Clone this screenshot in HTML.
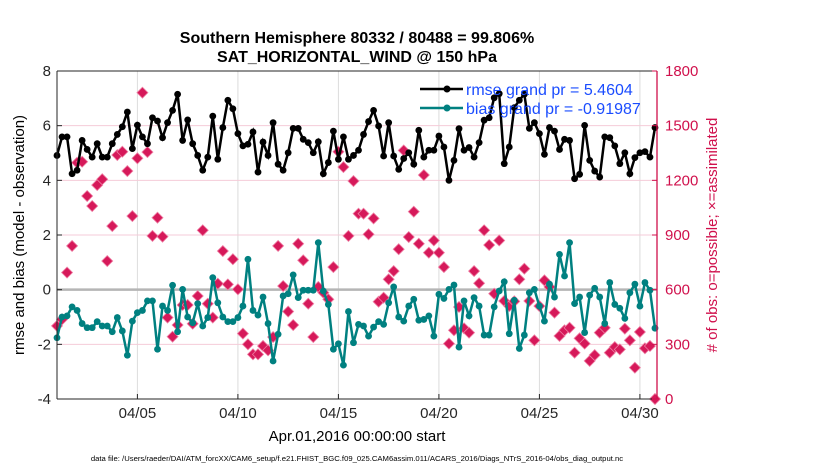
<!DOCTYPE html>
<html><head><meta charset="utf-8"><style>
body{margin:0;background:#fff;}
svg{display:block;font-family:"Liberation Sans",sans-serif;}
</style></head><body>
<svg id="chart" width="830" height="470" xmlns="http://www.w3.org/2000/svg">
<text x="357" y="43" text-anchor="middle" font-size="16" font-weight="bold">Southern Hemisphere 80332 / 80488 = 99.806%</text>
<text x="357" y="62" text-anchor="middle" font-size="16" font-weight="bold">SAT_HORIZONTAL_WIND @ 150 hPa</text>
<g id="grid"></g>
<g id="marks"></g>
<g id="axes"></g>
<text transform="translate(24,235) rotate(-90)" text-anchor="middle" font-size="15">rmse and bias (model - observation)</text>
<text transform="translate(717,235) rotate(-90)" text-anchor="middle" font-size="15" fill="#d0104c"># of obs: o=possible; ×=assimilated</text>
<text x="357" y="441" text-anchor="middle" font-size="15">Apr.01,2016 00:00:00 start</text>
<text x="357" y="461" text-anchor="middle" font-size="7.7">data file: /Users/raeder/DAI/ATM_forcXX/CAM6_setup/f.e21.FHIST_BGC.f09_025.CAM6assim.011/ACARS_2016/Diags_NTrS_2016-04/obs_diag_output.nc</text>
<g id="legend"></g>
</svg>
<script>
const rmse=[4.91,5.59,5.59,4.24,4.37,5.46,5.13,4.85,5.34,4.85,4.85,5.34,5.68,5.96,6.5,5.16,6.02,5.59,5.34,6.29,6.17,5.56,6.11,6.56,7.15,5.46,6.21,5.34,4.91,4.37,4.85,6.35,4.77,5.93,6.93,6.62,5.71,5.26,5.32,5.77,4.3,5.4,
4.91,6.11,4.59,4.37,5.01,5.9,5.9,5.5,5.38,5.01,5.41,4.24,4.65,5.8,4.77,5.59,4.77,4.91,5.1,5.68,6.15,6.56,5.99,4.89,6.11,4.89,4.4,4.8,5.01,4.59,5.83,4.85,5.1,5.1,5.62,5.22,4.0,4.73,5.89,5.1,
5.2,4.85,5.38,6.2,6.29,7.02,7.17,4.61,5.22,6.66,6.93,7.15,5.9,6.11,5.71,4.95,5.93,5.8,5.13,5.5,5.46,4.06,4.22,6.01,4.73,4.34,4.12,5.59,5.56,5.26,4.61,5.01,4.24,4.83,5.01,5.05,4.85,5.93];
const bias=[-1.76,-1.0,-0.96,-0.63,-0.76,-1.24,-1.39,-1.39,-1.17,-1.33,-1.33,-1.54,-1.02,-1.51,-2.4,-1.15,-0.84,-0.76,-0.41,-0.41,-2.18,-0.6,-0.76,0.16,-1.54,0.01,-1.0,-1.21,-0.51,-1.33,-1.02,0.44,-0.48,-1.0,-1.17,-1.17,-1.02,-0.6,1.11,-0.76,-0.93,-0.27,
-1.24,-2.61,-1.63,-0.23,-0.15,0.54,-0.29,-0.02,-0.02,-0.02,1.72,-0.05,-0.54,-2.18,-1.98,-2.76,-0.8,-1.94,-1.27,-1.33,-1.7,-1.37,-1.17,-1.27,-0.48,0.1,-1.0,-1.15,-0.6,-0.35,-1.12,-1.09,-0.96,-1.7,-0.17,-0.32,0.01,0.17,-2.1,-0.41,
-0.96,-0.29,-0.6,-1.66,-1.66,-0.63,-0.05,0.29,-1.61,-0.39,-2.15,-1.66,-0.11,0.01,-0.6,-1.15,0.2,-0.27,1.29,0.5,1.72,-0.51,-0.27,-1.57,-0.2,0.05,-0.27,-1.24,0.26,-0.54,-0.68,-1.05,-0.11,0.2,-0.6,0.26,-0.02,-1.41];
const nobs=[401,437,694,840,1297,1302,1114,1059,1174,1206,757,949,1339,1357,1251,1004,1321,1681,1355,895,995,891,447,342,406,516,516,413,565,926,523,447,633,812,629,767,602,359,300,245,245,291,
267,340,840,620,480,406,852,761,523,340,615,584,547,724,1357,1273,895,1196,1017,1017,904,991,534,556,657,702,822,1364,889,1028,852,1229,803,870,803,724,304,377,505,388,
364,702,635,926,845,578,870,538,510,536,657,715,538,322,510,651,615,474,346,377,391,254,333,304,209,241,364,391,254,285,272,386,322,172,368,278,291,0];
const yTicks=[8,6,4,2,0,-2,-4];
const y2Ticks=[1800,1500,1200,900,600,300,0];
const xTickDays=[4,9,14,19,24,29];
const xTickLabels=['04/05','04/10','04/15','04/20','04/25','04/30'];
const legendLabels=['rmse grand pr = 5.4604','bias grand pr = -0.91987'];

const NS='http://www.w3.org/2000/svg';
const L=57,R=657,T=71,B=399;
const xs=d=>L+d*(R-L)/29.85;
const ys=v=>T+(8-v)*(B-T)/12;
const ys2=n=>B-n*(B-T)/1800;
function mk(tag,attrs,parent){const e=document.createElementNS(NS,tag);for(const k in attrs)e.setAttribute(k,attrs[k]);parent.appendChild(e);return e;}
const grid=document.getElementById('grid'),marks=document.getElementById('marks'),axes=document.getElementById('axes'),leg=document.getElementById('legend');
mk('rect',{x:L,y:T,width:R-L,height:B-T,fill:'#fff'},grid);
xTickDays.forEach(d=>{const g=mk('line',{x1:xs(d),x2:xs(d),y1:T,y2:B,stroke:'#dcdcdc','stroke-width':1},grid);

});
y2Ticks.forEach(n=>{if(n>0&&n<1800){const g=mk('line',{x1:L,x2:R,y1:ys2(n),y2:ys2(n),stroke:'#f4cbd8','stroke-width':1},grid);

}});
const z=mk('line',{x1:L,x2:R,y1:ys(0),y2:ys(0),stroke:'#b5b5b5','stroke-width':2.5},grid);


nobs.forEach((n,i)=>{const x=xs(i/4),y=ys2(n);
const p=mk('path',{d:`M${x-5.5},${y} L${x},${y-5.5} L${x+5.5},${y} L${x},${y+5.5} Z`,fill:'#d6195a',stroke:'#ee7ea3','stroke-width':0.8},marks);

});
function series(arr,color,name){
const pl=mk('polyline',{points:arr.map((v,i)=>xs(i/4)+','+ys(v)).join(' '),fill:'none',stroke:color,'stroke-width':2.5},marks);


arr.forEach((v,i)=>{const c=mk('circle',{cx:xs(i/4),cy:ys(v),r:3.4,fill:color},marks);

});}
series(bias,'#008080','bias');
series(rmse,'#000','rmse');
mk('line',{x1:L,x2:L,y1:T,y2:B,stroke:'#262626'},axes);
mk('line',{x1:L,x2:R,y1:B,y2:B,stroke:'#262626'},axes);
mk('line',{x1:L,x2:R,y1:T,y2:T,stroke:'#262626'},axes);
mk('line',{x1:R,x2:R,y1:T,y2:B,stroke:'#d0104c','stroke-width':1.3},axes);
yTicks.forEach(v=>{mk('line',{x1:L,x2:L+5,y1:ys(v),y2:ys(v),stroke:'#262626'},axes);
const t=mk('text',{x:L-6,y:ys(v)+5,'text-anchor':'end','font-size':15,fill:'#262626'},axes);t.textContent=v;

});
y2Ticks.forEach(n=>{mk('line',{x1:R-5,x2:R,y1:ys2(n),y2:ys2(n),stroke:'#d0104c'},axes);
const t=mk('text',{x:R+8,y:ys2(n)+5,'font-size':15,fill:'#d0104c'},axes);t.textContent=n;

});
xTickDays.forEach((d,i)=>{mk('line',{x1:xs(d),x2:xs(d),y1:B-5,y2:B,stroke:'#262626'},axes);
const t=mk('text',{x:xs(d),y:B+19,'text-anchor':'middle','font-size':15,fill:'#262626'},axes);t.textContent=xTickLabels[i];

});
[['#000',89],['#008080',108]].forEach((c,i)=>{
const l=mk('line',{x1:420,x2:463,y1:c[1],y2:c[1],stroke:c[0],'stroke-width':2.5},leg);


mk('circle',{cx:447,cy:c[1],r:3.5,fill:c[0]},leg);
const t=mk('text',{x:466,y:c[1]+6,'font-size':16,fill:'#1a4cff'},leg);t.textContent=legendLabels[i];

});
</script>
</body></html>
